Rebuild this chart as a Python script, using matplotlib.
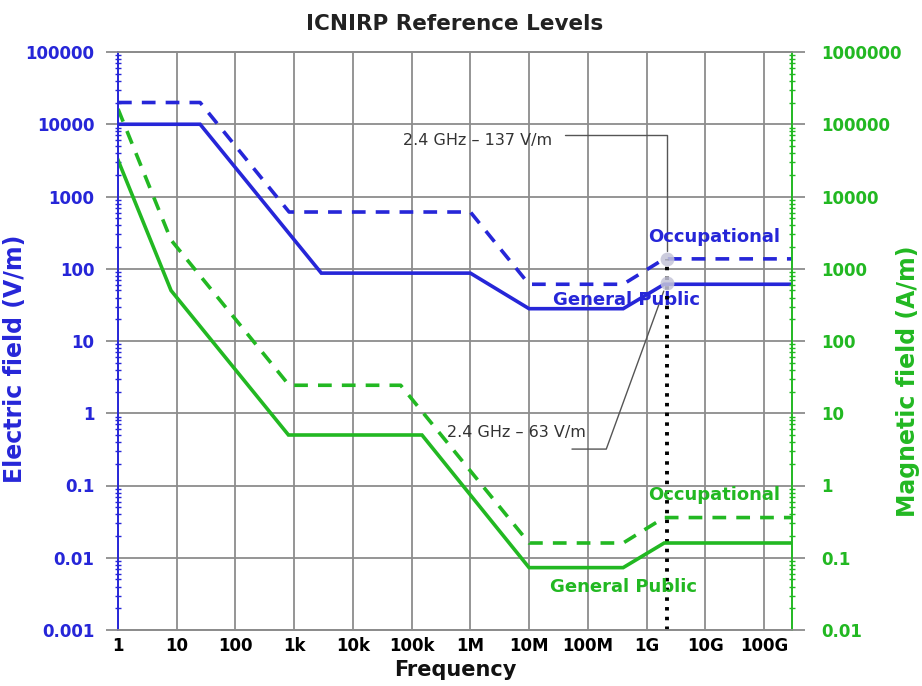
import matplotlib
matplotlib.use('Agg')
import matplotlib.pyplot as plt
from matplotlib.ticker import FixedLocator, FixedFormatter, LogLocator, NullFormatter

# ICNIRP reference levels, electric field (V/m)
fElecPublic = [1, 25, 2900, 1e6, 1e7, 4e8, 2e9, 3e11]
eElecPublic = [10000, 10000, 87, 87, 28, 28, 61, 61]
fElecOccup = [1, 25, 820, 1e6, 1e7, 4e8, 2e9, 3e11]
eElecOccup = [20000, 20000, 610, 610, 61, 61, 137, 137]

# magnetic field (A/m)
fMagPublic = [1, 8, 800, 1.5e5, 1e7, 4e8, 2e9, 3e11]
hMagPublic = [32000, 500, 5, 5, 0.073, 0.073, 0.16, 0.16]
fMagOccup = [1, 8, 820, 6.5e4, 1e7, 4e8, 2e9, 3e11]
hMagOccup = [163000, 2500, 24.4, 24.4, 0.16, 0.16, 0.36, 0.36]

# 2.4 GHz points
fWifi = 2.2e9
eWifiOccup = 137
eWifiPublic = 63

xTicks = [1, 10, 100, 1e3, 1e4, 1e5, 1e6, 1e7, 1e8, 1e9, 1e10, 1e11]
xTickLabels = ['1', '10', '100', '1k', '10k', '100k', '1M', '10M', '100M', '1G', '10G', '100G']
yLeftTicks = [0.001, 0.01, 0.1, 1, 10, 100, 1000, 10000, 100000]
yLeftLabels = ['0.001', '0.01', '0.1', '1', '10', '100', '1000', '10000', '100000']
yRightTicks = [0.01, 0.1, 1, 10, 100, 1000, 10000, 100000, 1000000]
yRightLabels = ['0.01', '0.1', '1', '10', '100', '1000', '10000', '100000', '1000000']

blue = '#2626d8'
green = '#22b822'
grid = '#8c8c8c'

fig = plt.figure(figsize=(9.22, 6.86), dpi=100)
ax = fig.add_axes([118 / 922, 56 / 686, 674 / 922, 578 / 686])
ax2 = ax.twinx()

ax.set_xscale('log')
ax.set_yscale('log')
ax2.set_yscale('log')
ax.set_xlim(1, 3e11)
ax.set_ylim(0.001, 100000)
ax2.set_ylim(0.01, 1000000)

# grid
ax.grid(True, which='major', color=grid, linewidth=1.3)
ax.set_axisbelow(True)

lw = 2.6
dash = (3.8, 2.8)
ax.plot(fElecPublic, eElecPublic, color=blue, lw=lw, solid_joinstyle='miter')
ax.plot(fElecOccup, eElecOccup, color=blue, lw=lw, dashes=dash)
ax2.plot(fMagPublic, hMagPublic, color=green, lw=lw, solid_joinstyle='miter')
ax2.plot(fMagOccup, hMagOccup, color=green, lw=lw, dashes=dash)

# 2.4 GHz line and markers
ax.vlines(fWifi, 0.001, eWifiOccup, colors='black', linewidth=2.8,
          linestyles=(0, (0.9, 1.6)), zorder=4)
ax.plot([fWifi, fWifi], [eWifiOccup, eWifiPublic], 'o', color='#c4c4d8',
        markersize=10, alpha=0.85, markeredgewidth=0, zorder=5)

ax.annotate('2.4 GHz \u2013 137 V/m', xy=(fWifi, eWifiOccup), xytext=(7e4, 6000),
            fontsize=11.5, color='#333333', va='center', ha='left',
            arrowprops=dict(arrowstyle='-', color='#555555', lw=1,
                            connectionstyle='angle,angleA=0,angleB=90,rad=0',
                            relpos=(1.05, 0.85), shrinkA=4, shrinkB=6))
ax.annotate('2.4 GHz \u2013 63 V/m', xy=(fWifi, eWifiPublic), xytext=(4e5, 0.54),
            fontsize=11.5, color='#333333', va='center', ha='left',
            arrowprops=dict(arrowstyle='-', color='#555555', lw=1,
                            connectionstyle='angle,angleA=0,angleB=70,rad=0',
                            relpos=(0.9, -0.6), shrinkA=0, shrinkB=6))

# curve labels
ax.text(1.4e10, 275, 'Occupational', color=blue, fontsize=13, fontweight='bold',
        ha='center', va='center')
ax.text(4.5e8, 37, 'General Public', color=blue, fontsize=13, fontweight='bold',
        ha='center', va='center')
ax2.text(1.4e10, 0.74, 'Occupational', color=green, fontsize=13, fontweight='bold',
         ha='center', va='center')
ax2.text(4.1e8, 0.04, 'General Public', color=green, fontsize=13, fontweight='bold',
         ha='center', va='center')

# ticks
ax.xaxis.set_major_locator(FixedLocator(xTicks))
ax.xaxis.set_major_formatter(FixedFormatter(xTickLabels))
ax.xaxis.set_minor_formatter(NullFormatter())
ax.tick_params(axis='x', which='both', length=0, pad=5, labelsize=12)
for t in ax.get_xticklabels():
    t.set_fontweight('bold')

ax.yaxis.set_major_locator(FixedLocator(yLeftTicks))
ax.yaxis.set_major_formatter(FixedFormatter(yLeftLabels))
ax.yaxis.set_minor_locator(LogLocator(base=10, subs=range(2, 10), numticks=20))
ax.yaxis.set_minor_formatter(NullFormatter())
ax.tick_params(axis='y', which='major', length=9, color=grid, width=1.3,
               labelcolor=blue, labelsize=12, pad=8)
ax.tick_params(axis='y', which='minor', length=4, color=blue, direction='inout', width=1)
for t in ax.get_yticklabels():
    t.set_fontweight('bold')

ax2.yaxis.set_major_locator(FixedLocator(yRightTicks))
ax2.yaxis.set_major_formatter(FixedFormatter(yRightLabels))
ax2.yaxis.set_minor_locator(LogLocator(base=10, subs=range(2, 10), numticks=20))
ax2.yaxis.set_minor_formatter(NullFormatter())
ax2.tick_params(axis='y', which='major', length=9, color=grid, width=1.3,
                labelcolor=green, labelsize=12, pad=12)
ax2.tick_params(axis='y', which='minor', length=4, color=green, direction='inout', width=1)
for t in ax2.get_yticklabels():
    t.set_fontweight('bold')

# spines
for a in (ax, ax2):
    a.spines['top'].set_color(grid)
    a.spines['bottom'].set_color(grid)
    a.spines['top'].set_linewidth(1.3)
    a.spines['bottom'].set_linewidth(1.3)
    a.spines['left'].set_color(blue)
    a.spines['right'].set_color(green)
    a.spines['left'].set_linewidth(1.2)
    a.spines['right'].set_linewidth(1.2)

ax.set_title('ICNIRP Reference Levels', fontsize=15.5, fontweight='bold',
             color='#222222', pad=16)
ax.set_xlabel('Frequency', fontsize=15, fontweight='bold', color='#111111', labelpad=4)
ax.set_ylabel('Electric field (V/m)', fontsize=17, fontweight='bold', color=blue)
ax2.set_ylabel('Magnetic field (A/m)', fontsize=17, fontweight='bold', color=green)
ax.yaxis.set_label_coords(-0.135, 0.47)
ax2.yaxis.set_label_coords(1.155, 0.43)

fig.savefig('out.png', dpi=100)
